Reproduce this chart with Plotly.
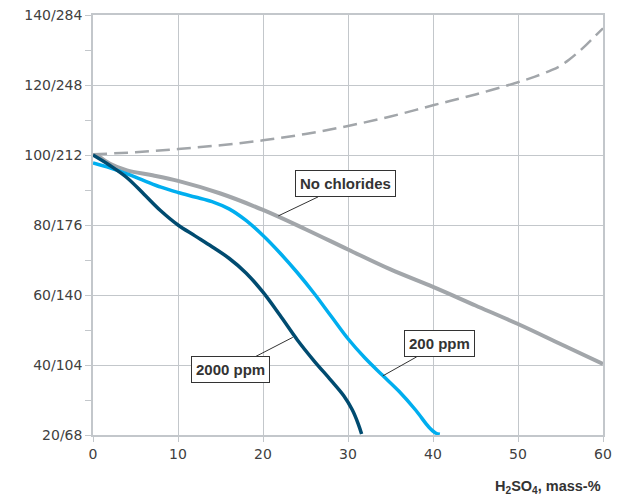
import plotly.graph_objects as go

# Data
x_dashed = [0, 5, 10, 15, 20, 25, 30, 35, 40, 45, 50, 52, 54, 55, 56, 57, 58, 59, 60]
y_dashed = [100.2, 100.8, 101.7, 102.8, 104.2, 106, 108.3, 111, 114.2, 117.3, 120.8, 122.4, 124.3, 125.5, 127.2, 129.2, 131.4, 133.8, 136.2]

x_nochl = [0.5, 2, 4, 7, 10, 15, 20, 25, 30, 35, 40, 45, 50, 55, 60]
y_nochl = [100, 97.5, 95.6, 94.2, 92.6, 89, 84.3, 78.8, 73, 67.3, 62.3, 57, 51.7, 46, 40.3]

x_200 = [0, 2, 4, 6, 8, 10, 12, 14, 16, 18, 20, 22, 24, 26, 28, 30, 32, 34, 36, 38, 39.5, 40.3, 40.8]
y_200 = [97.7, 96.3, 94.6, 92.7, 90.8, 89.3, 88, 86.7, 84.6, 81.3, 77, 72, 66.5, 60.5, 54, 47.5, 42, 37.2, 32.5, 27, 22.3, 20.6, 20.2]

x_2000 = [0, 2, 4, 6, 8, 10, 12, 14, 16, 18, 20, 22, 24, 26, 28, 29.5, 30.5, 31.2, 31.6]
y_2000 = [100, 97, 93.5, 88.8, 84, 80, 76.9, 73.8, 70.5, 66.3, 60.8, 54.2, 47.3, 41.2, 35.6, 31.2, 27.2, 23.2, 20.3]

y_tickvals = [20, 40, 60, 80, 100, 120, 140]
y_ticktext = ["20/68", "40/104", "60/140", "80/176", "100/212", "120/248", "140/284"]
x_tickvals = [0, 10, 20, 30, 40, 50, 60]

GRAY = "#a2a6aa"
LIGHT = "#00aeef"
DARK = "#004b70"
GRID = "#c3c7cb"

fig = go.Figure()
fig.add_trace(go.Scatter(x=x_dashed, y=y_dashed, mode="lines",
                         line=dict(color=GRAY, width=2.5, dash="14px,7px", shape="spline"),
                         showlegend=False, hoverinfo="skip"))
fig.add_trace(go.Scatter(x=x_nochl, y=y_nochl, mode="lines",
                         line=dict(color=GRAY, width=4, shape="spline"),
                         showlegend=False, hoverinfo="skip"))
fig.add_trace(go.Scatter(x=x_200, y=y_200, mode="lines",
                         line=dict(color=LIGHT, width=3.5, shape="spline"),
                         showlegend=False, hoverinfo="skip"))
fig.add_trace(go.Scatter(x=x_2000, y=y_2000, mode="lines",
                         line=dict(color=DARK, width=3.5, shape="spline"),
                         showlegend=False, hoverinfo="skip"))

FONT = "DejaVu Sans"
BOLD = "Liberation Sans"
label_style = dict(showarrow=True, arrowhead=0, arrowwidth=1, arrowcolor="#333333",
                   bordercolor="#333333", borderwidth=1, borderpad=4, bgcolor="white",
                   font=dict(family=BOLD, size=15, color="#333333"))
fig.add_annotation(x=21.8, y=82.6, ax=67, ay=-32, text="<b>No chlorides</b>", **label_style)
fig.add_annotation(x=23.5, y=47.9, ax=-62, ay=32, text="<b>2000 ppm</b>", **label_style)
fig.add_annotation(x=34.1, y=36.9, ax=57, ay=-32, text="<b>200 ppm</b>", **label_style)

fig.add_annotation(x=1, y=0, xref="paper", yref="paper", yshift=-41, xanchor="right", yanchor="top",
                   showarrow=False, text="<b>H<sub>2</sub>SO<sub>4</sub>, mass-%</b>",
                   font=dict(family=BOLD, size=14.5, color="#333333"))

# page body adds ~8px offset; compensate so the plot area lands where the reference has it
fig.update_layout(
    width=620, height=487,
    margin=dict(l=85, r=25, t=7, b=60),
    paper_bgcolor="white", plot_bgcolor="white",
    font=dict(family=FONT, size=14, color="#404040"),
    xaxis=dict(range=[0, 60], tickvals=x_tickvals, showgrid=True, gridcolor=GRID, gridwidth=1,
               zeroline=False, showline=True, linecolor=GRID, linewidth=1.5, mirror=True,
               automargin=False, ticks="outside", ticklen=5, tickcolor=GRID, ticklabeloverflow="allow"),
    yaxis=dict(range=[20, 140], tickvals=y_tickvals, ticktext=y_ticktext, showgrid=True,
               gridcolor=GRID, gridwidth=1, zeroline=False, showline=True, automargin=False,
               linecolor=GRID, linewidth=1.5, mirror=True, ticks="outside", ticklen=6, tickcolor=GRID,
               ticklabelstandoff=0, ticklabeloverflow="allow",
               minor=dict(dtick=10, tick0=10, ticks="outside", ticklen=6, tickcolor=GRID, showgrid=False)),
)

fig.write_html("out.html")
